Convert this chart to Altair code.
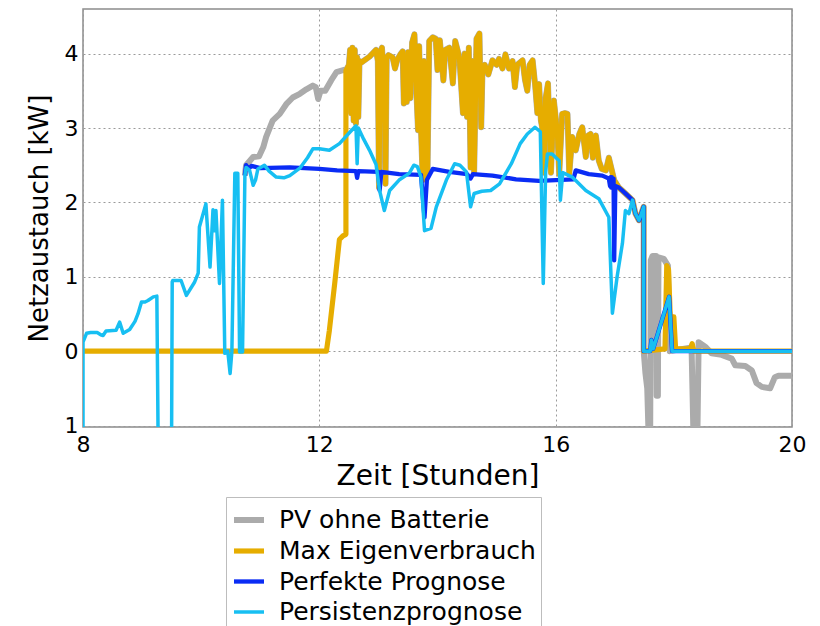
import altair as alt
import pandas as pd

FONT = "DejaVu Sans"
SERIES = ["PV ohne Batterie", "Max Eigenverbrauch", "Perfekte Prognose", "Persistenzprognose"]
COLORS = ["#ababab", "#e6ad00", "#0a2cf5", "#17bff2"]
WIDTHS = [6, 3.5, 3.5, 3.5]
X_TICKS = [8, 12, 16, 20]
Y_TICKS = [-1, 0, 1, 2, 3, 4]

# morning part (all battery strategies identical to PV before ~10:45, drawn once in cyan)
PRE = [(8.00, -1.05), (8.00, 0.12), (8.06, 0.24), (8.13, 0.25), (8.24, 0.25), (8.30, 0.22),
       (8.34, 0.21), (8.39, 0.27), (8.56, 0.28), (8.62, 0.39), (8.68, 0.24), (8.79, 0.29),
       (8.88, 0.40), (8.93, 0.50), (8.99, 0.66), (9.05, 0.66), (9.10, 0.68), (9.19, 0.73),
       (9.25, 0.74), (9.27, -1.05), (9.50, -1.05), (9.51, 0.93), (9.52, 0.95), (9.66, 0.95),
       (9.75, 0.75), (9.89, 0.93), (9.95, 1.05), (9.97, 1.67), (10.08, 1.98), (10.15, 1.13),
       (10.20, 1.90), (10.23, 1.62), (10.25, 1.89), (10.31, 0.91), (10.36, 2.03), (10.40, -0.03),
       (10.45, 0.00), (10.49, -0.30), (10.52, 0.00), (10.57, 2.39), (10.62, 2.39), (10.65, -0.01),
       (10.70, -0.01), (10.74, 2.36)]

GRAY_RISE = [(10.74, 2.36), (10.76, 2.50), (10.88, 2.61), (10.98, 2.62), (11.05, 2.74),
             (11.10, 2.88), (11.21, 3.10), (11.33, 3.19), (11.44, 3.32), (11.55, 3.41),
             (11.67, 3.46), (11.78, 3.52), (11.89, 3.57), (11.94, 3.55), (11.98, 3.39),
             (12.02, 3.50), (12.10, 3.50), (12.20, 3.64), (12.29, 3.75), (12.45, 3.79)]

ORANGE_START = [(8.00, 0.00), (12.12, 0.00), (12.17, 0.28), (12.26, 0.91), (12.34, 1.50),
                (12.40, 1.55), (12.45, 1.57)]

# midday part shared by PV and Max Eigenverbrauch
MID = [(12.45, 3.77), (12.50, 3.85), (12.52, 4.05), (12.54, 3.20), (12.56, 4.08), (12.58, 3.10),
       (12.60, 4.05), (12.62, 3.06), (12.64, 3.95), (12.66, 3.15), (12.68, 3.90), (12.71, 3.88),
       (12.85, 3.96), (12.96, 4.05), (12.99, 3.90), (13.01, 2.20), (13.03, 4.02), (13.06, 4.08),
       (13.10, 3.60), (13.12, 2.25), (13.14, 3.95), (13.17, 3.98), (13.24, 3.95), (13.28, 3.80),
       (13.32, 3.92), (13.38, 4.00), (13.41, 4.03), (13.43, 3.33), (13.45, 3.95), (13.48, 3.35),
       (13.50, 4.02), (13.54, 3.40), (13.57, 4.15), (13.61, 4.26), (13.64, 3.55), (13.67, 2.97),
       (13.69, 4.10), (13.72, 3.00), (13.75, 2.30), (13.77, 3.90), (13.80, 2.39), (13.83, 2.35),
       (13.86, 4.17), (13.92, 4.22), (13.97, 4.20), (14.00, 3.78), (14.04, 4.18), (14.10, 3.64),
       (14.13, 4.05), (14.20, 4.08), (14.26, 3.60), (14.30, 4.17), (14.37, 3.95), (14.43, 3.20),
       (14.46, 4.00), (14.50, 3.15), (14.53, 4.08), (14.56, 2.47), (14.59, 3.90), (14.62, 2.39),
       (14.66, 4.20), (14.71, 4.27), (14.74, 3.01), (14.76, 3.73), (14.80, 3.85), (14.86, 3.72),
       (14.93, 3.91), (15.00, 3.85), (15.04, 3.93), (15.10, 3.80), (15.15, 3.99), (15.21, 3.80),
       (15.27, 3.90), (15.31, 3.55), (15.35, 3.85), (15.44, 3.91), (15.48, 3.65), (15.52, 3.50),
       (15.56, 3.85), (15.61, 3.91), (15.65, 3.60), (15.69, 3.20), (15.72, 3.59), (15.75, 3.10),
       (15.78, 2.97), (15.80, 2.40), (15.83, 3.40), (15.87, 3.60), (15.89, 3.10), (15.92, 2.40),
       (15.97, 3.37), (16.03, 2.92), (16.06, 2.38), (16.11, 3.19), (16.16, 3.20), (16.20, 3.19),
       (16.23, 2.38), (16.28, 2.88), (16.34, 2.70), (16.40, 2.92), (16.45, 3.01), (16.51, 2.61),
       (16.55, 2.90), (16.59, 2.92), (16.63, 2.60), (16.68, 2.90), (16.73, 2.56), (16.78, 2.45),
       (16.85, 2.43), (16.90, 2.60), (16.93, 2.50), (16.99, 2.30), (17.07, 2.20), (17.18, 2.12)]

TAIL = [(17.30, 2.03), (17.35, 1.85), (17.41, 1.76), (17.49, 1.94), (17.49, 0.00)]

GRAY_END = [(17.52, -0.30), (17.55, -0.50), (17.57, -1.05), (17.60, -1.05), (17.61, 1.22),
            (17.64, 1.28), (17.70, 1.28), (17.71, -0.60), (17.73, -0.60), (17.74, 1.26),
            (17.83, 1.24), (17.90, 1.15), (17.93, 0.00), (18.30, 0.05), (18.33, -1.05),
            (18.40, -1.05), (18.42, 0.12), (18.53, 0.06), (18.64, -0.03), (18.81, -0.05),
            (18.98, -0.10), (19.04, -0.19), (19.21, -0.20), (19.32, -0.26), (19.40, -0.43),
            (19.49, -0.48), (19.63, -0.50), (19.71, -0.35), (19.77, -0.33), (20.00, -0.33)]

ORANGE_END = [(17.85, 0.03), (17.88, 1.15), (17.91, 1.10), (17.94, 0.46), (18.00, 0.46),
              (18.03, 0.03), (18.28, 0.03), (18.31, 0.10), (18.34, 0.00), (20.00, 0.00)]

BLUE_MID = [(10.74, 2.36), (10.76, 2.50), (10.80, 2.45), (10.85, 2.49), (11.00, 2.46),
            (11.50, 2.47), (12.00, 2.45), (12.30, 2.43), (12.62, 2.42), (12.64, 2.33),
            (12.66, 2.42), (13.00, 2.41), (13.02, 2.16), (13.05, 2.41), (13.35, 2.38),
            (13.72, 2.37), (13.78, 1.80), (13.82, 2.30), (13.92, 2.45), (14.20, 2.41),
            (14.50, 2.38), (14.56, 2.32), (14.60, 2.38), (14.93, 2.36), (15.33, 2.31),
            (15.72, 2.29), (16.00, 2.30), (16.30, 2.31), (16.34, 2.43), (16.56, 2.38),
            (16.79, 2.36), (16.90, 2.32), (16.92, 2.22), (16.93, 2.34), (16.94, 2.20),
            (16.95, 2.34), (16.97, 2.20), (16.98, 2.32), (16.99, 1.22), (17.01, 2.22),
            (17.07, 2.20), (17.18, 2.12)]

CYAN_MID = [(10.76, 2.47), (10.82, 2.43), (10.88, 2.23), (10.92, 2.30), (10.96, 2.45),
            (11.07, 2.50), (11.15, 2.42), (11.27, 2.34), (11.40, 2.33), (11.50, 2.36),
            (11.67, 2.46), (11.80, 2.60), (11.89, 2.72), (12.00, 2.72), (12.17, 2.70),
            (12.34, 2.79), (12.50, 2.93), (12.62, 3.03), (12.64, 2.52), (12.66, 3.00),
            (12.75, 2.85), (12.85, 2.70), (12.96, 2.51), (13.02, 2.16), (13.10, 1.89),
            (13.19, 2.16), (13.35, 2.30), (13.52, 2.39), (13.60, 2.50), (13.66, 2.48),
            (13.72, 2.34), (13.78, 1.62), (13.89, 1.65), (13.98, 1.94), (14.15, 2.30),
            (14.29, 2.52), (14.38, 2.50), (14.49, 2.41), (14.56, 1.94), (14.62, 2.12),
            (14.75, 2.15), (14.90, 2.16), (15.05, 2.25), (15.25, 2.52), (15.40, 2.79),
            (15.52, 2.92), (15.65, 3.01), (15.74, 2.95), (15.79, 0.91), (15.83, 2.40),
            (15.86, 2.65), (15.94, 2.65), (16.06, 2.56), (16.08, 2.03), (16.12, 2.40),
            (16.28, 2.34), (16.51, 2.16), (16.73, 2.05), (16.90, 1.80), (16.96, 0.51),
            (17.04, 1.00), (17.13, 1.45), (17.18, 1.89), (17.24, 1.85)]

CYAN_END = [(17.60, 0.00), (17.62, 0.15), (17.65, 0.03), (17.92, 0.73), (17.97, 0.00),
            (20.00, 0.00)]

CURVES = {
    "PV ohne Batterie": GRAY_RISE + MID + TAIL + GRAY_END,
    "Max Eigenverbrauch": ORANGE_START + MID + TAIL + ORANGE_END,
    "Perfekte Prognose": BLUE_MID + TAIL + CYAN_END,
    "Persistenzprognose": PRE + CYAN_MID + TAIL + CYAN_END,
}

rows = []
for name, pts in CURVES.items():
    for i, (t, v) in enumerate(pts):
        rows.append({"series": name, "t": t, "v": v, "i": i})
df = pd.DataFrame(rows)

leg = alt.Legend(title=None, orient="none", legendX=143, legendY=488, symbolType="stroke",
                 symbolSize=900, labelFont=FONT, labelFontSize=25, labelOffset=12,
                 rowPadding=0, padding=5, strokeColor="#bdbdbd", fillColor="white",
                 labelColor="black", labelLimit=500)

x_axis = alt.Axis(values=X_TICKS, title="Zeit [Stunden]", grid=True, gridDash=[2, 3],
                  gridColor="#9a9a9a", ticks=False, domain=False, labelFont=FONT,
                  labelFontSize=22, labelPadding=7, labelColor="black", labelFlush=False,
                  titleFont=FONT, titleFontSize=28, titleFontWeight="normal",
                  titlePadding=7, titleColor="black")
y_axis = alt.Axis(values=Y_TICKS, title="Netzaustauch [kW]", grid=True, gridDash=[2, 3],
                  gridColor="#9a9a9a", ticks=False, domain=False, labelFont=FONT,
                  labelFontSize=22, labelPadding=5, labelColor="black", labelFlush=False,
                  labelExpr="datum.value < 0 ? '1' : datum.label",
                  titleFont=FONT, titleFontSize=26, titleFontWeight="normal",
                  titlePadding=12, titleColor="black")

base = alt.Chart(df)


def layer(name):
    return base.transform_filter(alt.datum.series == name).mark_line(
        clip=True, strokeJoin="round").encode(
        x=alt.X("t:Q", scale=alt.Scale(domain=[8, 20], nice=False, zero=False), axis=x_axis),
        y=alt.Y("v:Q", scale=alt.Scale(domain=[-1.02, 4.6], nice=False, zero=False), axis=y_axis),
        color=alt.Color("series:N", scale=alt.Scale(domain=SERIES, range=COLORS), legend=leg),
        strokeWidth=alt.StrokeWidth("series:N", scale=alt.Scale(domain=SERIES, range=WIDTHS),
                                    legend=leg),
        order=alt.Order("i:Q"),
    )


chart = alt.layer(*[layer(s) for s in SERIES]).properties(
    width=709, height=418,
    padding={"left": 75, "top": 1, "right": 20, "bottom": 200},
    autosize=alt.AutoSizeParams(type="none"),
).configure_view(stroke="#8c8c8c", strokeWidth=1.5)

chart.save("out.html", embed_options={"renderer": "svg", "actions": False})
